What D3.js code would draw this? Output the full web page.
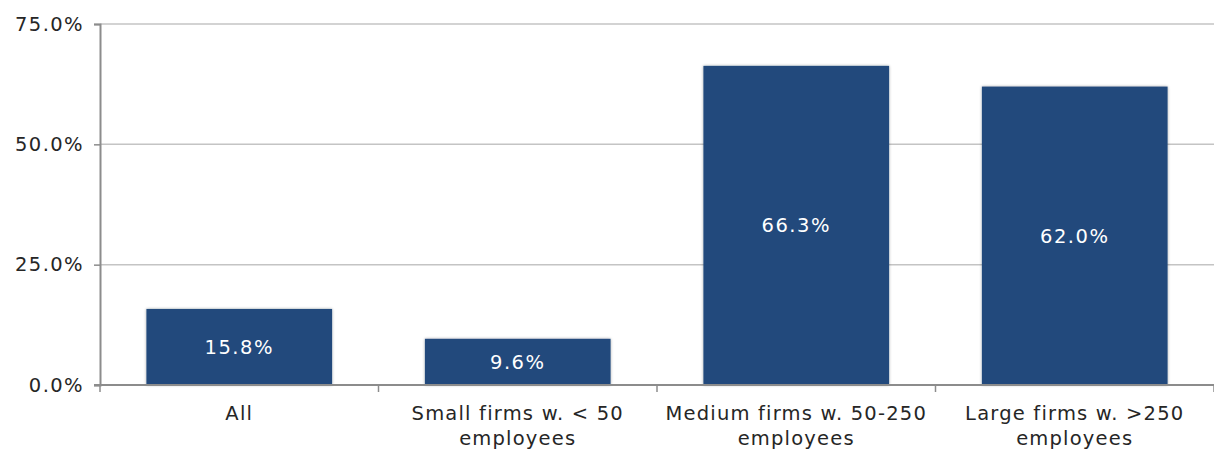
<!DOCTYPE html>
<html><head><meta charset="utf-8">
<script src="https://cdn.jsdelivr.net/npm/d3@7"></script>
<style>
body{margin:0;background:#fff;}
text{font-family:"DejaVu Sans",Verdana,sans-serif;}
</style></head>
<body>
<svg id="chart" width="1214" height="450"></svg>
<script>
const categories = ["All", "Small firms w. < 50 employees", "Medium firms w. 50-250 employees", "Large firms w. >250 employees"];
const categoryLines = [["All"], ["Small firms w. < 50", "employees"], ["Medium firms w. 50-250", "employees"], ["Large firms w. >250", "employees"]];
const values = [15.8, 9.6, 66.3, 62.0];
const yTicks = [0, 25, 50, 75];

const svg = d3.select("#chart");
const m = {left: 100, right: 0, top: 24, bottom: 65};
const W = 1214, H = 450;

const x = d3.scaleBand().domain(categories).range([m.left, W - m.right]).paddingInner(1/3).paddingOuter(1/6);
const y = d3.scaleLinear().domain([0, 75]).range([H - m.bottom, m.top]);

// gridlines
svg.append("g").selectAll("line").data(yTicks.filter(d => d > 0)).join("line")
  .attr("x1", m.left).attr("x2", W).attr("y1", d => y(d)).attr("y2", d => y(d))
  .attr("stroke", "#c4c4c4").attr("stroke-width", 1.5);

// shadow filter
const defs = svg.append("defs");
const f = defs.append("filter").attr("id", "sh").attr("x", "-10%").attr("y", "-10%").attr("width", "120%").attr("height", "120%");
f.append("feGaussianBlur").attr("in", "SourceAlpha").attr("stdDeviation", 1.5);
f.append("feOffset").attr("dx", 0).attr("dy", 0).attr("result", "b");
f.append("feComponentTransfer").append("feFuncA").attr("type", "linear").attr("slope", 0.35);
const mg = f.append("feMerge"); mg.append("feMergeNode"); mg.append("feMergeNode").attr("in", "SourceGraphic");

// bars
svg.append("g").selectAll("rect").data(values).join("rect")
  .attr("x", (d, i) => x(categories[i])).attr("width", x.bandwidth())
  .attr("y", d => y(d)).attr("height", d => y(0) - y(d))
  .attr("fill", "#214a7c").attr("filter", "url(#sh)");

// value labels
svg.append("g").selectAll("text").data(values).join("text")
  .attr("x", (d, i) => x(categories[i]) + x.bandwidth() / 2)
  .attr("y", d => (y(d) + y(0)) / 2)
  .attr("dy", "0.35em").attr("text-anchor", "middle")
  .attr("fill", "#fff").attr("font-size", 19.5).attr("letter-spacing", 1.5)
  .text(d => d.toFixed(1) + "%");

// y axis
const yAxis = svg.append("g").attr("transform", `translate(${m.left},0)`)
  .call(d3.axisLeft(y).tickValues(yTicks).tickFormat(d => d.toFixed(1) + "%").tickSizeOuter(0).tickSize(6).tickPadding(10));
yAxis.select(".domain").attr("stroke", "#8c8c8c").attr("stroke-width", 2);
yAxis.selectAll(".tick line").attr("stroke", "#8c8c8c").attr("stroke-width", 1.5);
yAxis.selectAll(".tick text").attr("font-size", 19.5).attr("letter-spacing", 1.4).attr("fill", "#262626")
  .attr("font-family", "'DejaVu Sans',Verdana,sans-serif");

// x axis baseline
const xAxis = svg.append("g").attr("transform", `translate(0,${y(0)})`);
xAxis.append("line").attr("x1", m.left - 6).attr("x2", W).attr("stroke", "#8c8c8c").attr("stroke-width", 2);
const bounds = categories.map(c => x(c) - x.step() * x.paddingInner() / 2).concat([W]);
bounds[0] = m.left;
xAxis.selectAll("line.tk").data(bounds).join("line").attr("class", "tk")
  .attr("x1", d => d).attr("x2", d => d).attr("y1", 0).attr("y2", 7)
  .attr("stroke", "#8c8c8c").attr("stroke-width", 1.5);

// category labels
const cl = svg.append("g").selectAll("text").data(categories).join("text")
  .attr("x", c => x(c) + x.bandwidth() / 2).attr("y", y(0) + 35)
  .attr("text-anchor", "middle").attr("font-size", 19.5).attr("letter-spacing", 1.2).attr("fill", "#262626");
cl.each(function(c, i) {
  d3.select(this).selectAll("tspan").data(categoryLines[i]).join("tspan")
    .attr("x", x(c) + x.bandwidth() / 2).attr("dy", (d, j) => j === 0 ? 0 : 24.5).text(d => d);
});
</script>
</body></html>
